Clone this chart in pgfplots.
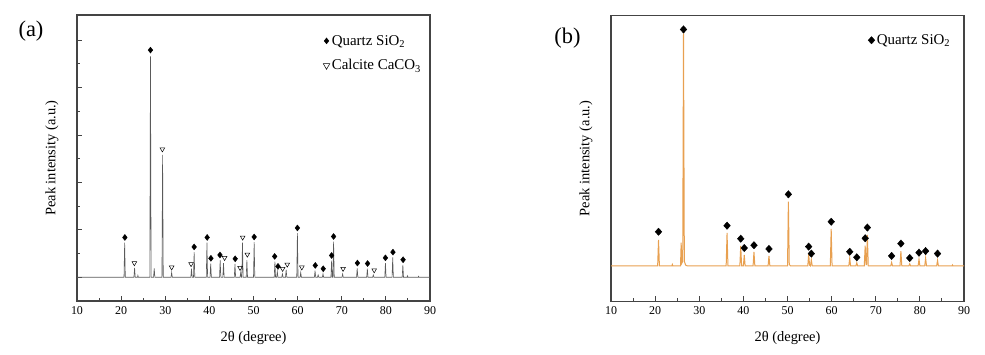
\documentclass[border=0pt]{standalone}
\usepackage{fontspec}
\setmainfont{Liberation Serif}
\usepackage{pgfplots}
\pgfplotsset{compat=1.18}
\definecolor{axgray}{HTML}{444444}
\definecolor{xrdorange}{HTML}{E8A050}
\definecolor{xrdgray}{HTML}{5A5A5A}

\pgfplotsset{
 xrd/.style={
  scale only axis, width=353bp, height=286bp,
  xmin=10, xmax=90, xtick={10,20,...,90}, minor x tick num=1,
  tick align=inside, xtick pos=left, ytick pos=left,
  major tick length=5bp, minor tick length=3bp,
  axis line style={axgray, line width=1.2bp},
  every tick/.style={axgray, line width=0.9bp},
  tick label style={font=\fontsize{12}{14}\selectfont, text=black},
  xticklabel style={yshift=-2bp},
  /pgf/number format/assume math mode=true,
  xlabel={2θ (degree)}, ylabel={Peak intensity (a.u.)},
  label style={font=\fontsize{14.5}{17}\selectfont},
  xlabel style={at={(axis description cs:0.5,-0.129)}, anchor=center},
  ylabel style={at={(axis description cs:-0.071,0.5)}, anchor=center},
  legend style={draw=none, fill=none, font=\fontsize{15}{17}\selectfont, inner sep=0pt, row sep=6bp},
  legend cell align=left,
 }
}

\pgfplotstableread{
x y
10 0
20.65 0
20.8 0.73
20.95 0
22.9 0
23.05 0.20
23.2 0
23.7 0
23.8 0.04
23.9 0
26.5 0
26.65 4.66
26.8 0
27.35 0
27.5 0.19
27.65 0
29.25 0
29.4 2.58
29.55 0
31.3 0
31.45 0.10
31.6 0
35.8 0
35.95 0.18
36.1 0
36.4 0
36.55 0.53
36.7 0
39.3 0
39.45 0.73
39.6 0
40.15 0
40.3 0.29
40.45 0
42.3 0
42.45 0.36
42.6 0
43.05 0
43.2 0.30
43.35 0
45.65 0
45.8 0.28
45.95 0
46.95 0
47.1 0.10
47.25 0
47.35 0
47.5 0.73
47.65 0
48.35 0
48.5 0.36
48.65 0
50.0 0
50.15 0.74
50.3 0
54.7 0
54.85 0.33
55.0 0
55.25 0
55.4 0.12
55.55 0
56.4 0
56.55 0.07
56.7 0
57.25 0
57.4 0.16
57.55 0
59.8 0
59.95 0.93
60.1 0
60.55 0
60.7 0.10
60.85 0
63.8 0
63.95 0.14
64.1 0
64.5 0
64.65 0.05
64.8 0
65.6 0
65.75 0.07
65.9 0
67.55 0
67.7 0.35
67.85 0
68.0 0
68.15 0.75
68.3 0
70.05 0
70.2 0.07
70.35 0
73.35 0
73.5 0.19
73.65 0
75.65 0
75.8 0.18
75.95 0
77.0 0
77.15 0.05
77.3 0
79.75 0
79.9 0.30
80.05 0
81.4 0
81.55 0.42
81.7 0
83.7 0
83.85 0.26
84.0 0
84.8 0
84.9 0.03
85.0 0
87.3 0
87.4 0.02
87.5 0
90 0
}\patternA

\pgfplotstableread{
x y
20.85 0.84
26.65 4.79
36.55 0.64
39.5 0.84
40.35 0.40
42.4 0.47
45.85 0.39
50.15 0.85
54.8 0.44
55.55 0.23
59.95 1.04
64.0 0.25
65.8 0.18
67.7 0.46
68.15 0.86
73.55 0.30
75.85 0.29
79.9 0.41
81.6 0.53
83.9 0.37
}\quartzA

\pgfplotstableread{
x y
23.0 0.30
29.35 2.70
31.45 0.21
35.85 0.28
43.45 0.41
46.95 0.20
47.55 0.84
48.6 0.48
56.6 0.18
57.65 0.27
60.95 0.21
70.3 0.18
77.35 0.15
}\calciteA

\pgfplotstableread{
x y
10 0
20.57 0
20.77 11.2
20.97 0
23.8 0
23.9 0.6
24.0 0
25.75 0
25.9 10
26.05 1.2
26.25 2
26.43 100
26.62 2
26.9 0.4
27.3 0
36.1 0
36.3 14.2
36.5 0
39.2 0
39.4 8.6
39.6 0
40.0 0
40.2 4.7
40.4 0
42.2 0
42.4 6.0
42.6 0
45.6 0
45.8 4.3
46.0 0
50.0 0
50.2 27.6
50.4 0.6
50.7 0
54.6 0
54.8 5.2
55.0 0.3
55.2 0
55.4 2.6
55.6 0
59.7 0
59.9 15.9
60.1 0
63.9 0
64.1 3.4
64.3 0
65.5 0
65.7 1.3
65.9 0
67.4 0
67.6 8.7
67.8 0.6
67.9 0.6
68.1 13.3
68.3 0
73.4 0
73.6 1.5
73.8 0
75.5 0
75.7 6.4
75.9 0
77.5 0
77.7 0.9
77.9 0
79.6 0
79.8 2.8
80.0 0
81.1 0
81.3 3.4
81.5 0
83.8 0
84.0 2.4
84.2 0
87.3 0
87.4 0.4
87.5 0
90 0
}\patternB

\pgfplotstableread{
x y
20.77 14.7
26.43 101.7
36.3 17.3
39.4 11.7
40.2 7.7
42.4 8.9
45.8 7.3
50.2 30.8
54.8 8.3
55.4 5.3
59.9 19.0
64.1 6.1
65.7 3.7
67.6 11.9
68.1 16.5
73.6 4.3
75.7 9.6
77.7 3.4
79.8 5.7
81.3 6.4
84.0 5.3
}\quartzB

\begin{document}
\begin{tikzpicture}
\useasboundingbox (0,0) rectangle (985bp,355bp);

\begin{axis}[xrd, at={(77bp,54bp)}, anchor=south west,
  ymin=-0.5, ymax=5.53, ytick={0,1,...,5}, minor y tick num=1, yticklabels={},
  legend style={at={(axis description cs:0.697,0.937)}, anchor=north west, row sep=9bp}]
\addplot[xrdgray, line width=0.6bp, forget plot] table {\patternA};
\addplot[only marks, mark=diamond*, mark size=3, mark options={xscale=1.05}, black] table {\quartzA};
\addlegendentry{Quartz SiO\textsubscript{2}}
\addplot[only marks, mark=triangle, mark size=2.7, mark options={rotate=180, line width=0.5bp}, black,
  legend image post style={mark size=3.8}] table {\calciteA};
\addlegendentry{Calcite CaCO\textsubscript{3}}
\end{axis}

\begin{axis}[xrd, at={(611bp,53.5bp)}, anchor=south west,
  ymin=-15.3, ymax=107.7, ytick=\empty,
  legend style={at={(axis description cs:0.728,0.941)}, anchor=north west}]
\addplot[xrdorange, line width=1bp, forget plot] table {\patternB};
\addplot[only marks, mark=diamond*, mark size=3.7, mark options={xscale=1.2}, black] table {\quartzB};
\addlegendentry{Quartz SiO\textsubscript{2}}
\end{axis}

\node[font=\fontsize{22.5}{26}\selectfont] at (31bp,324bp) {(a)};
\node[font=\fontsize{22.5}{26}\selectfont] at (567.5bp,316.5bp) {(b)};
\end{tikzpicture}
\end{document}
